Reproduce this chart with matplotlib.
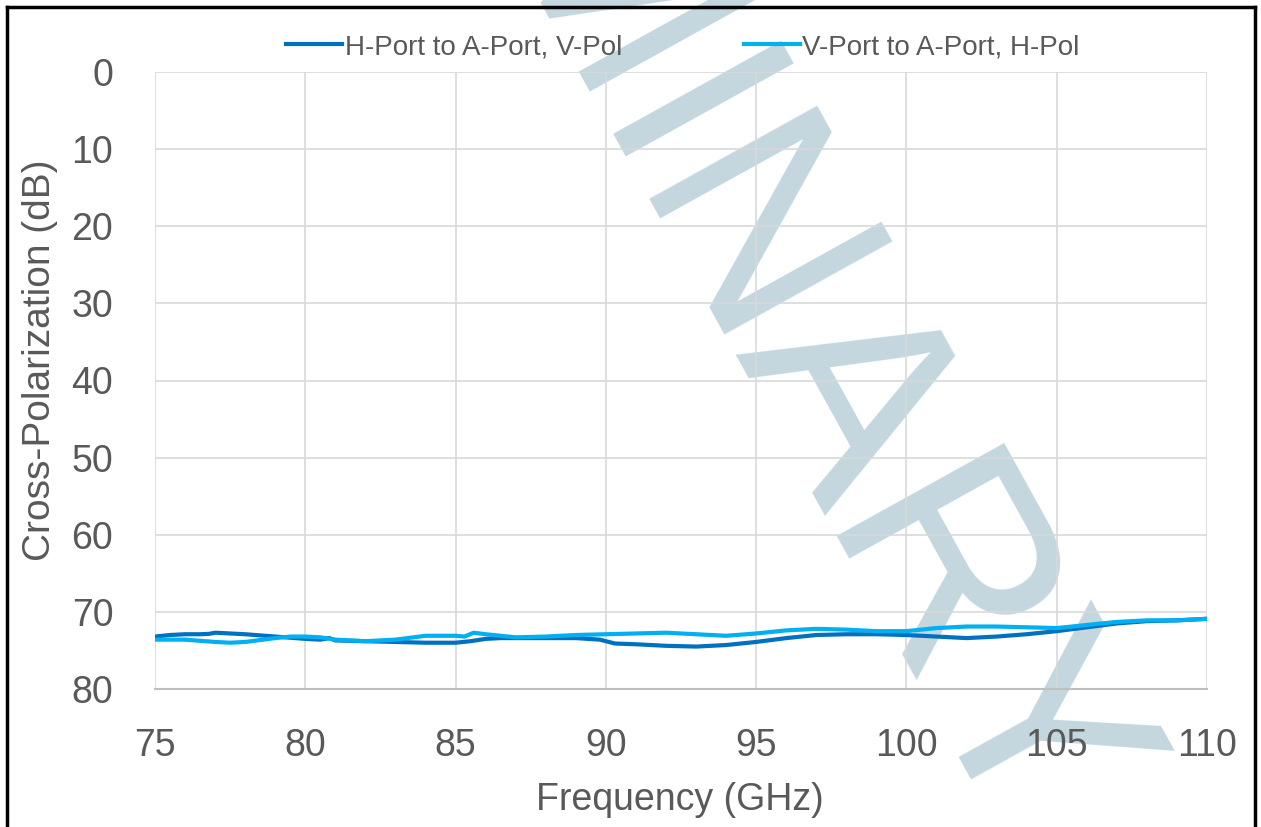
import matplotlib
matplotlib.use("Agg")
import matplotlib.pyplot as plt
from matplotlib.lines import Line2D

# ---- data ----
h_freq = [75.0, 75.5, 76.0, 76.5, 76.8, 77.0, 77.5, 78.0, 79.0, 80.0, 80.5, 80.8, 81.0,
          82.0, 83.0, 84.0, 85.0, 85.5, 86.0, 86.5, 87.0, 88.0, 89.0, 89.8, 90.3, 91.0,
          92.0, 93.0, 94.0, 95.0, 96.0, 97.0, 98.0, 99.0, 100.0, 101.0, 102.0, 103.0,
          104.0, 105.0, 106.0, 107.0, 108.0, 109.0, 110.0]
h_xpol = [73.2, 73.0, 72.9, 72.9, 72.85, 72.7, 72.8, 72.9, 73.2, 73.5, 73.6, 73.4, 73.7,
          73.8, 73.9, 74.0, 74.0, 73.8, 73.5, 73.4, 73.4, 73.4, 73.4, 73.6, 74.1, 74.2,
          74.4, 74.5, 74.3, 73.9, 73.4, 73.0, 72.9, 72.9, 73.0, 73.2, 73.4, 73.2,
          72.9, 72.5, 72.0, 71.5, 71.2, 71.1, 70.9]

v_freq = [75.0, 76.0, 77.0, 77.5, 78.0, 79.0, 79.5, 80.0, 80.5, 81.0, 82.0, 83.0, 84.0,
          85.0, 85.3, 85.6, 86.0, 87.0, 88.0, 89.0, 90.0, 91.0, 92.0, 93.0, 94.0, 95.0,
          96.0, 97.0, 98.0, 99.0, 100.0, 101.0, 102.0, 103.0, 104.0, 105.0, 106.0, 107.0,
          108.0, 109.0, 110.0]
v_xpol = [73.6, 73.6, 73.9, 74.0, 73.9, 73.4, 73.2, 73.2, 73.3, 73.6, 73.8, 73.6, 73.1,
          73.1, 73.2, 72.7, 72.9, 73.3, 73.2, 73.0, 72.9, 72.8, 72.7, 72.9, 73.1, 72.8,
          72.4, 72.2, 72.3, 72.5, 72.5, 72.1, 71.9, 71.9, 72.0, 72.1, 71.7, 71.3,
          71.1, 71.1, 70.9]

series_labels = ["H-Port to A-Port, V-Pol", "V-Port to A-Port, H-Pol"]
x_ticks = [75, 80, 85, 90, 95, 100, 105, 110]
y_ticks = [0, 10, 20, 30, 40, 50, 60, 70, 80]
x_label = "Frequency (GHz)"
y_label = "Cross-Polarization (dB)"
watermark = "PRELIMINARY"

# ---- figure ----
W, H = 1261, 827
fig = plt.figure(figsize=(W / 100, H / 100), dpi=100)
fig.patch.set_facecolor("white")
plt.rcParams["font.family"] = ["Liberation Sans", "DejaVu Sans"]

ax = fig.add_axes([155 / W, 1 - 689 / H, (1207 - 155) / W, (689 - 72) / H])
ax.set_facecolor("none")
ax.set_zorder(1)

# watermark behind everything
fig.text(605 / W, 1 - 13 / H, watermark, rotation=-61, rotation_mode="anchor",
         ha="center", va="center", fontsize=200, color="#c4d6de", zorder=-5,
         family="Liberation Sans")

ax.plot(h_freq, h_xpol, color="#0070C0", lw=3, label=series_labels[0], zorder=3)
ax.plot(v_freq, v_xpol, color="#00B0F0", lw=3, label=series_labels[1], zorder=3)

ax.set_xlim(75, 110)
ax.set_ylim(80, 0)
ax.set_xticks(x_ticks)
ax.set_yticks(y_ticks)
ax.grid(True, color="#d9d9d9", lw=1.2)
ax.set_axisbelow(True)
for s in ["top", "right", "left"]:
    ax.spines[s].set_visible(False)
ax.spines["bottom"].set_color("#bfbfbf")
ax.spines["bottom"].set_linewidth(1.5)
ax.tick_params(axis="both", length=0, labelsize=27, labelcolor="#595959")
ax.tick_params(axis="y", pad=30)
ax.tick_params(axis="x", pad=28)

ax.set_xlabel(x_label, fontsize=27, color="#595959")
ax.set_ylabel(y_label, fontsize=28, color="#595959")
ax.xaxis.label.set_va("center")
ax.yaxis.label.set_va("center")
ax.xaxis.set_label_coords((680 - 155) / (1207 - 155), (689 - 800) / (689 - 72))
ax.yaxis.set_label_coords((40 - 155) / (1207 - 155), (689 - 360) / (689 - 72))

leg = ax.legend(loc="center", bbox_to_anchor=(683 / W, 1 - 47 / H),
                bbox_transform=fig.transFigure, ncol=2, frameon=False,
                fontsize=20, handlelength=2.0, handletextpad=0.1,
                columnspacing=4.4, labelcolor="#595959")

# outer black frame
lw = 2.5
fig.add_artist(Line2D([7 / W, 7 / W], [0, 1 - 7 / H], color="black", lw=lw, transform=fig.transFigure))
fig.add_artist(Line2D([1255 / W, 1255 / W], [0, 1 - 7 / H], color="black", lw=lw, transform=fig.transFigure))
fig.add_artist(Line2D([7 / W, 1255 / W], [1 - 7 / H, 1 - 7 / H], color="black", lw=lw, transform=fig.transFigure))

fig.savefig("out.png", dpi=100)
